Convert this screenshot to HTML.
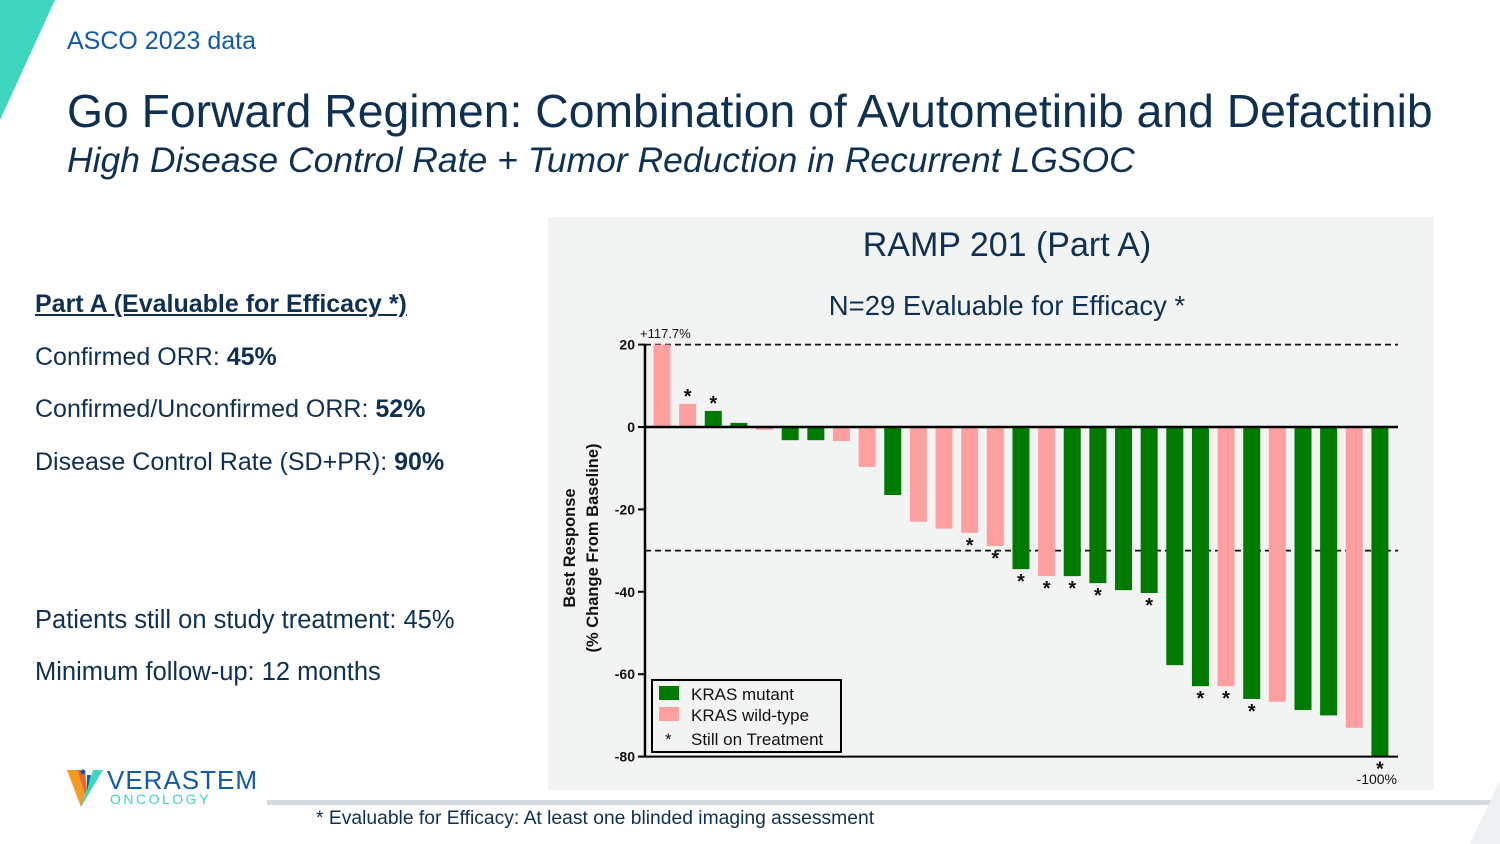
<!DOCTYPE html>
<html><head><meta charset="utf-8"><style>
body{margin:0;width:1500px;height:844px;background:#fff;position:relative;overflow:hidden;font-family:"Liberation Sans",sans-serif;}
.a{position:absolute;white-space:nowrap;}
</style></head><body>
<svg class="a" style="left:0;top:0" width="60" height="125"><polygon points="0,0 55,0 0,120" fill="#3fd6bf"/></svg>
<div class="a" style="left:67px;top:27px;font-size:25px;color:#1259a8;">ASCO 2023 data</div>
<div class="a" style="left:67px;top:84px;font-size:46.3px;color:#0f3050;">Go Forward Regimen: Combination of Avutometinib and Defactinib</div>
<div class="a" style="left:67px;top:140px;font-size:35.5px;font-style:italic;color:#0f3050;">High Disease Control Rate + Tumor Reduction in Recurrent LGSOC</div>
<div class="a" style="left:35px;top:290px;font-size:25px;font-weight:bold;text-decoration:underline;color:#0f3050;">Part A (Evaluable for Efficacy *)</div>
<div class="a" style="left:35px;top:343px;font-size:25px;color:#0f3050;">Confirmed ORR: <b>45%</b></div>
<div class="a" style="left:35px;top:395px;font-size:25px;color:#0f3050;">Confirmed/Unconfirmed ORR: <b>52%</b></div>
<div class="a" style="left:35px;top:448px;font-size:25px;color:#0f3050;">Disease Control Rate (SD+PR): <b>90%</b></div>
<div class="a" style="left:35px;top:606px;font-size:25.5px;color:#0f3050;">Patients still on study treatment: 45%</div>
<div class="a" style="left:35px;top:658px;font-size:25.5px;color:#0f3050;">Minimum follow-up: 12 months</div>
<svg class="a" style="left:65px;top:767px" width="40" height="44"><polygon points="2,3 12,3 20,28 16,40" fill="#f39a22"/><polygon points="12,3 20,3 22,22 20,28" fill="#e86a2a"/><polygon points="38,3 28,3 20,28 16,40" fill="#3fd6bf"/><polygon points="22,8 26,8 22,24" fill="#1259a8"/><circle cx="18" cy="5" r="2.5" fill="#1259a8"/></svg>
<div class="a" style="left:107px;top:765px;font-size:26px;color:#1259a8;letter-spacing:1px;">VERASTEM</div>
<div class="a" style="left:110px;top:791px;font-size:14px;color:#3fd6bf;letter-spacing:2.5px;">ONCOLOGY</div>
<div class="a" style="left:267px;top:800px;width:1233px;height:5px;background:#d3d9dd;"></div>
<svg class="a" style="left:1465px;top:770px" width="35" height="74"><polygon points="35,10 35,74 5,74" fill="#eef1f3"/></svg>
<div class="a" style="left:316px;top:808px;font-size:19.3px;color:#0f3050;">* Evaluable for Efficacy: At least one blinded imaging assessment</div>
<div class="a" style="left:548px;top:217px;width:886px;height:573px;background:#f2f3f3;"></div>
<div class="a" style="left:548px;top:226px;width:918px;text-align:center;font-size:34px;color:#0f3050;">RAMP 201 (Part A)</div>
<div class="a" style="left:548px;top:290px;width:918px;text-align:center;font-size:27.5px;color:#0f3050;">N=29 Evaluable for Efficacy *</div>
<svg id="chart" class="a" style="left:0;top:0" width="1500" height="844"></svg>
<script>
const values=[20,5.6,3.9,1,-0.7,-3.2,-3.2,-3.4,-9.7,-16.5,-23,-24.7,-25.7,-28.9,-34.5,-36.2,-36.2,-37.9,-39.6,-40.3,-57.8,-62.9,-62.9,-66,-66.7,-68.7,-70,-73,-80];
const kras=['w','w','m','m','w','m','m','w','w','m','w','w','w','w','m','w','m','m','m','m','m','m','w','m','w','m','m','w','m'];
const onTreatment=[0,1,1,0,0,0,0,0,0,0,0,0,1,1,1,1,1,1,0,1,0,1,1,1,0,0,0,0,1];
const yTicks=[20,0,-20,-40,-60,-80];
const refLines=[20,-30];
const svg=document.getElementById('chart');const NS='http://www.w3.org/2000/svg';
function y(v){return 427-(v*82.4/20);}
function x(i){return 662+i*25.64;}
function mk(t,a,txt){const e=document.createElementNS(NS,t);for(const k in a)e.setAttribute(k,a[k]);if(txt!==undefined)e.textContent=txt;svg.appendChild(e);return e;}
refLines.forEach(v=>{const l=mk('line',{x1:645,x2:1398,y1:y(v),y2:y(v),stroke:'#111','stroke-width':1.8,'stroke-dasharray':'6,4'});

});
values.forEach((v,i)=>{const top=Math.min(y(v),y(0)),h=Math.abs(y(v)-y(0));
const r=mk('rect',{x:x(i)-8.5,y:top,width:17,height:h,fill:kras[i]==='m'?'#007a00':'#ffa0a0'});


if(onTreatment[i]){const sy=v>=0?y(v)-1:y(v)+19;
const s=mk('text',{x:x(i),y:sy,'text-anchor':'middle','font-size':20,'font-weight':'bold',fill:'#111','font-family':'Liberation Sans'},'*');

}});
mk('line',{x1:645,x2:1398,y1:y(0),y2:y(0),stroke:'#000','stroke-width':2.5});
mk('line',{x1:645,x2:1398,y1:y(-80),y2:y(-80),stroke:'#000','stroke-width':2});
mk('line',{x1:645,x2:645,y1:y(20),y2:y(-80),stroke:'#000','stroke-width':2.5});
yTicks.forEach(v=>{mk('line',{x1:638,x2:645,y1:y(v),y2:y(v),stroke:'#000','stroke-width':2});
const t=mk('text',{x:635,y:y(v)+5,'text-anchor':'end','font-size':14,'font-weight':'bold',fill:'#111'},String(v));

});
mk('text',{x:640,y:338,'font-size':13,fill:'#111'},'+117.7%');
mk('text',{x:1397,y:784,'text-anchor':'end','font-size':14,fill:'#111'},'-100%');
const yt=mk('text',{transform:'translate(575,548) rotate(-90)','text-anchor':'middle','font-size':16.5,'font-weight':'bold',fill:'#111'},'Best Response');


mk('text',{transform:'translate(598,548) rotate(-90)','text-anchor':'middle','font-size':16.5,'font-weight':'bold',fill:'#111'},'(% Change From Baseline)');
const lg=mk('rect',{x:652,y:680,width:189,height:72,fill:'none',stroke:'#000','stroke-width':2});


mk('rect',{x:659,y:686,width:20,height:14,fill:'#007a00'});
mk('text',{x:691,y:700,'font-size':17,fill:'#111'},'KRAS mutant');
mk('rect',{x:659,y:707,width:20,height:14,fill:'#ffa0a0'});
mk('text',{x:691,y:721,'font-size':17,fill:'#111'},'KRAS wild-type');
mk('text',{x:665,y:745,'font-size':17,fill:'#111'},'*');
mk('text',{x:691,y:745,'font-size':17,fill:'#111'},'Still on Treatment');
</script>
</body></html>
